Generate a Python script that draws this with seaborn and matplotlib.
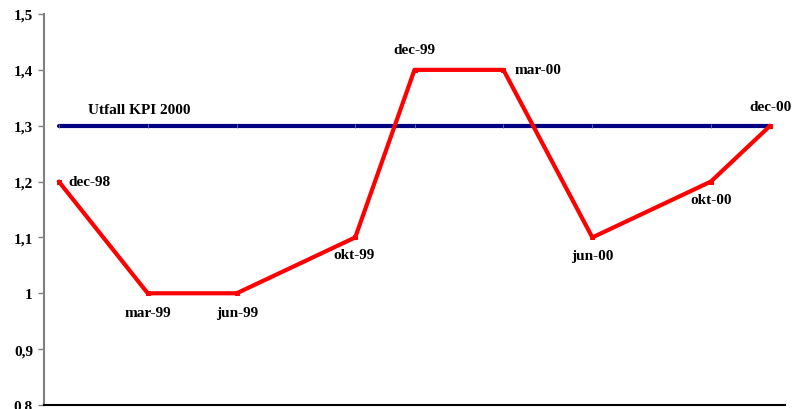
import matplotlib
matplotlib.use("Agg")
import matplotlib.pyplot as plt
import seaborn as sns
import pandas as pd

# KPI development, quarterly observations (months counted from dec-98)
period_labels = ["dec-98", "mar-99", "jun-99", "okt-99", "dec-99",
                 "mar-00", "jun-00", "okt-00", "dec-00"]
month_index = [0, 3, 6, 10, 12, 15, 18, 22, 24]
kpi_values = [1.2, 1.0, 1.0, 1.1, 1.4, 1.4, 1.1, 1.2, 1.3]
kpi_outcome_2000 = [1.3, 1.3, 1.3, 1.3, 1.3, 1.3, 1.3, 1.3, 1.3]
outcome_label = "Utfall KPI 2000"

y_ticks = [0.8, 0.9, 1.0, 1.1, 1.2, 1.3, 1.4, 1.5]
y_tick_labels = ["0,8", "0,9", "1", "1,1", "1,2", "1,3", "1,4", "1,5"]

# label placement (pixel offsets from each point, alignment)
label_offsets = [(10, 0, "left", "center"),
                 (0, -19, "center", "center"),
                 (0, -19, "center", "center"),
                 (-1, -17, "center", "center"),
                 (0, 20, "center", "center"),
                 (11, 0, "left", "center"),
                 (0, -18, "center", "center"),
                 (0, -18, "center", "center"),
                 (0, 19, "center", "center")]

df = pd.DataFrame({"month": month_index, "kpi": kpi_values,
                   "outcome": kpi_outcome_2000, "label": period_labels})

sns.set_theme(style="white")
plt.rcParams["font.family"] = ["Liberation Serif", "DejaVu Serif"]
plt.rcParams["font.weight"] = "bold"

fig = plt.figure(figsize=(7.96, 4.10), dpi=100)
ax = fig.add_axes([44 / 796, 4 / 410, 741 / 796, 391 / 410])

sns.lineplot(data=df, x="month", y="outcome", ax=ax, color="#000080",
             linewidth=3, marker="|", markersize=3, markeredgecolor="#7070b8",
             markeredgewidth=0.6, zorder=2)
sns.lineplot(data=df, x="month", y="kpi", ax=ax, color="#ff0000",
             linewidth=3, marker="s", markersize=3.5, markeredgecolor="#ff0000",
             zorder=3)

for xv, yv, lab, (dx, dy, ha, va) in zip(df["month"], df["kpi"], df["label"], label_offsets):
    ax.annotate(lab, (xv, yv), xytext=(dx, dy), textcoords="offset pixels",
                ha=ha, va=va, fontsize=11, fontweight="bold", color="black")

ax.annotate(outcome_label, (df["month"].iloc[0], kpi_outcome_2000[0]),
            xytext=(29, 16), textcoords="offset pixels", ha="left", va="center",
            fontsize=11, fontweight="bold", color="black")

ax.set_xlim(-0.5, 24.5)
ax.set_ylim(0.8, 1.5)
ax.set_yticks(y_ticks)
ax.set_yticklabels(y_tick_labels, fontsize=11, fontweight="bold")
ax.set_xticks([])
ax.set_xlabel("")
ax.set_ylabel("")

for side in ["top", "right"]:
    ax.spines[side].set_visible(False)
ax.spines["left"].set_color("#808080")
ax.spines["left"].set_linewidth(1.5)
ax.spines["bottom"].set_color("black")
ax.spines["bottom"].set_linewidth(1.5)
ax.tick_params(axis="y", left=True, length=4, width=1, color="#808080",
               pad=4, labelcolor="black")
ax.set_facecolor("white")
fig.patch.set_facecolor("white")

fig.savefig("out.png", dpi=100, facecolor="white")
